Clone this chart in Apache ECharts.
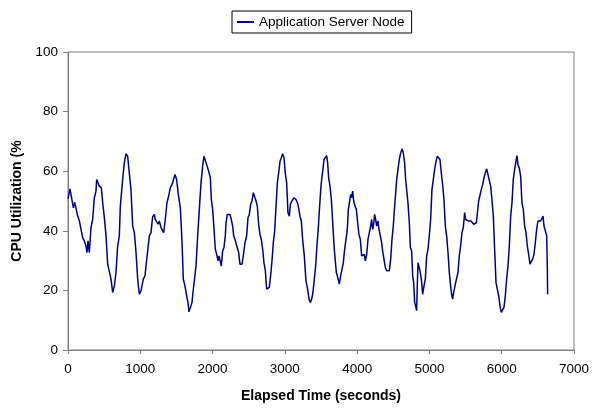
<!DOCTYPE html>
<html>
<head>
<meta charset="utf-8">
<script src="https://cdn.jsdelivr.net/npm/echarts@6/dist/echarts.min.js"></script>
<style>
html,body{margin:0;padding:0;background:#fff;}
#chart{width:606px;height:408px;}
</style>
</head>
<body>
<div id="chart"></div>
<script>
var seriesName = 'Application Server Node';
var xTitle = 'Elapsed Time (seconds)';
var yTitle = 'CPU Utilization (%';
var elapsedSeconds = [0,28,55,74,92,111,129,157,180,203,226,249,263,277,295,318,341,364,387,397,424,433,461,480,503,526,549,572,595,618,641,664,687,710,724,756,779,802,825,848,871,895,918,941,964,987,1010,1033,1042,1065,1079,1102,1125,1148,1171,1194,1208,1227,1245,1263,1286,1309,1323,1346,1369,1392,1415,1448,1480,1503,1526,1554,1577,1595,1618,1641,1660,1674,1697,1715,1729,1752,1771,1794,1817,1840,1863,1881,1900,1918,1946,1969,1983,2001,2020,2038,2057,2075,2089,2107,2121,2139,2158,2176,2186,2204,2222,2241,2259,2278,2292,2310,2328,2347,2361,2379,2407,2425,2448,2471,2490,2508,2527,2545,2564,2582,2601,2619,2637,2656,2674,2693,2711,2730,2748,2767,2785,2803,2822,2840,2859,2877,2896,2914,2933,2951,2969,2988,3006,3025,3043,3062,3076,3099,3126,3154,3182,3209,3228,3246,3269,3292,3315,3334,3352,3371,3389,3407,3426,3444,3463,3481,3500,3514,3527,3541,3560,3578,3592,3606,3624,3643,3657,3670,3684,3698,3712,3726,3740,3753,3772,3790,3809,3827,3846,3864,3878,3896,3910,3924,3938,3952,3970,3989,4007,4025,4044,4062,4081,4099,4113,4132,4150,4168,4187,4201,4215,4228,4242,4256,4270,4288,4302,4321,4339,4353,4371,4390,4408,4427,4445,4464,4482,4500,4519,4533,4547,4565,4583,4602,4620,4639,4657,4671,4689,4703,4722,4736,4754,4768,4782,4796,4809,4823,4832,4842,4855,4869,4888,4906,4925,4943,4962,4980,4998,5017,5035,5054,5072,5091,5109,5128,5146,5164,5183,5201,5220,5238,5257,5275,5293,5307,5321,5335,5349,5363,5377,5395,5413,5432,5450,5469,5487,5501,5519,5538,5556,5575,5593,5612,5630,5649,5667,5681,5699,5718,5736,5755,5773,5792,5810,5828,5847,5865,5884,5902,5921,5939,5958,5976,5994,6013,6031,6050,6068,6087,6105,6124,6142,6160,6179,6197,6211,6225,6243,6262,6280,6299,6317,6336,6354,6373,6391,6409,6428,6446,6465,6483,6502,6520,6539,6557,6571,6585,6603,6622,6631,6635];
var cpuUtilization = [50.7,54.1,54.1,47.7,49.6,49.4,45.5,43.3,42.7,37.7,36.6,34.9,32.7,36.6,32.7,41.1,43.8,51.0,53.3,57.2,57.0,55.0,54.4,49.4,44.4,38.3,28.8,28.2,23.8,19.3,21.5,26.0,34.9,38.3,48.3,57.2,62.8,65.9,65.0,59.4,53.9,41.6,39.4,32.7,23.8,18.7,19.9,19.3,23.8,24.9,28.2,33.2,38.3,39.4,44.7,45.5,43.8,44.4,42.2,43.3,41.1,40.7,39.4,43.8,49.4,51.6,54.4,56.1,58.9,57.2,52.2,47.7,36.6,23.8,21.5,18.2,15.9,12.8,12.4,15.9,19.3,19.9,28.2,38.3,47.2,56.1,61.7,65.0,65.6,62.2,60.0,57.8,50.5,47.2,40.5,33.8,32.1,29.9,31.6,31.6,28.2,33.2,34.4,38.3,42.7,45.5,45.9,45.5,43.8,41.6,38.3,37.1,35.5,34.9,32.7,28.8,28.8,31.6,36.0,38.3,44.4,45.5,48.9,50.0,52.8,52.2,50.0,48.3,42.2,38.8,37.1,33.8,29.3,26.6,20.4,19.9,21.0,24.9,29.9,36.0,39.9,47.7,56.1,59.4,63.3,64.5,65.9,64.5,59.4,56.1,46.1,44.9,48.9,50.0,51.1,50.5,48.9,44.9,43.3,37.1,31.6,23.2,20.4,17.1,15.9,17.1,19.3,23.8,28.2,34.9,41.1,48.3,55.0,58.3,60.6,63.9,64.1,65.2,62.8,57.8,55.0,50.5,44.9,39.4,33.8,33.2,26.0,24.9,24.3,22.1,24.9,25.4,29.3,33.8,37.1,40.5,47.2,49.9,52.2,51.1,53.3,50.0,48.3,47.2,42.7,38.8,37.1,31.6,31.0,32.1,29.9,32.1,37.1,37.1,41.6,43.8,40.5,42.2,45.5,43.8,41.6,43.3,40.5,38.3,36.0,33.2,30.5,27.7,26.6,27.1,26.6,30.5,37.1,41.6,48.3,48.9,57.2,60.6,63.9,66.1,67.5,66.1,62.8,57.2,52.8,49.4,42.7,34.4,33.2,24.9,22.6,15.9,14.8,13.2,21.5,29.3,28.8,26.6,23.8,18.7,21.5,23.8,31.6,33.8,38.3,43.8,53.9,57.2,60.6,63.3,65.0,65.6,63.9,59.4,55.5,50.5,41.6,38.3,32.7,26.0,21.5,18.7,17.1,19.3,18.7,22.6,23.2,26.0,31.6,34.9,39.4,41.1,46.1,43.8,43.8,43.3,43.8,43.3,42.7,42.2,42.2,42.7,43.3,50.0,50.0,53.9,55.5,57.8,59.4,60.8,58.9,58.3,55.0,50.5,44.9,33.8,22.6,20.4,18.2,14.8,12.6,12.6,14.3,18.2,23.8,28.2,34.9,44.9,49.4,57.2,60.6,63.3,65.2,62.2,61.1,58.3,49.4,47.2,41.6,39.4,34.9,32.1,28.8,28.2,30.5,32.1,36.0,40.5,43.3,43.8,43.3,43.8,44.9,41.6,41.1,38.3,28.2,18.7];

var chart = echarts.init(document.getElementById('chart'), null, {renderer: 'canvas'});
var seriesData = elapsedSeconds.map(function (t, i) { return [t, cpuUtilization[i]]; });
var fontFam = '"Liberation Sans", Arial, sans-serif';
var axisGray = '#808080';

chart.setOption({
  animation: false,
  backgroundColor: '#ffffff',
  textStyle: { fontFamily: fontFam },
  legend: {
    left: 232,
    top: 11,
    padding: [4, 7, 4, 5],
    borderColor: '#000000',
    borderWidth: 1,
    itemWidth: 17,
    itemHeight: 2,
    itemGap: 4,
    icon: 'rect',
    textStyle: { fontSize: 13.5, color: '#000', fontFamily: fontFam },
    data: [seriesName]
  },
  grid: {
    left: 68,
    right: 32,
    top: 52,
    bottom: 57,
    show: true,
    borderColor: axisGray,
    borderWidth: 1,
    backgroundColor: 'transparent'
  },
  xAxis: {
    type: 'value',
    min: 0,
    max: 7000,
    interval: 1000,
    name: xTitle,
    nameLocation: 'middle',
    nameGap: 39,
    nameTextStyle: { fontSize: 14, fontWeight: 'bold', color: '#000', fontFamily: fontFam },
    axisLine: { show: true, lineStyle: { color: axisGray, width: 1 } },
    axisTick: { show: true, inside: false, length: 4, lineStyle: { color: axisGray } },
    axisLabel: { fontSize: 13.5, color: '#000', margin: 12, fontFamily: fontFam,
      formatter: function (v) { return String(v); } },
    splitLine: { show: false }
  },
  yAxis: {
    type: 'value',
    min: 0,
    max: 100,
    interval: 20,
    name: yTitle,
    nameLocation: 'middle',
    nameRotate: 90,
    nameGap: 42,
    nameTextStyle: { fontSize: 14, fontWeight: 'bold', color: '#000', fontFamily: fontFam },
    axisLine: { show: true, lineStyle: { color: axisGray, width: 1 } },
    axisTick: { show: true, inside: false, length: 5, lineStyle: { color: axisGray } },
    axisLabel: { fontSize: 13.5, color: '#000', margin: 10, fontFamily: fontFam,
      formatter: function (v) { return String(v); } },
    splitLine: { show: false }
  },
  series: [{
    name: seriesName,
    type: 'line',
    data: seriesData,
    showSymbol: false,
    symbol: 'none',
    smooth: false,
    color: '#000080',
    lineStyle: { color: '#000080', width: 1.5 }
  }]
});
</script>
</body>
</html>
